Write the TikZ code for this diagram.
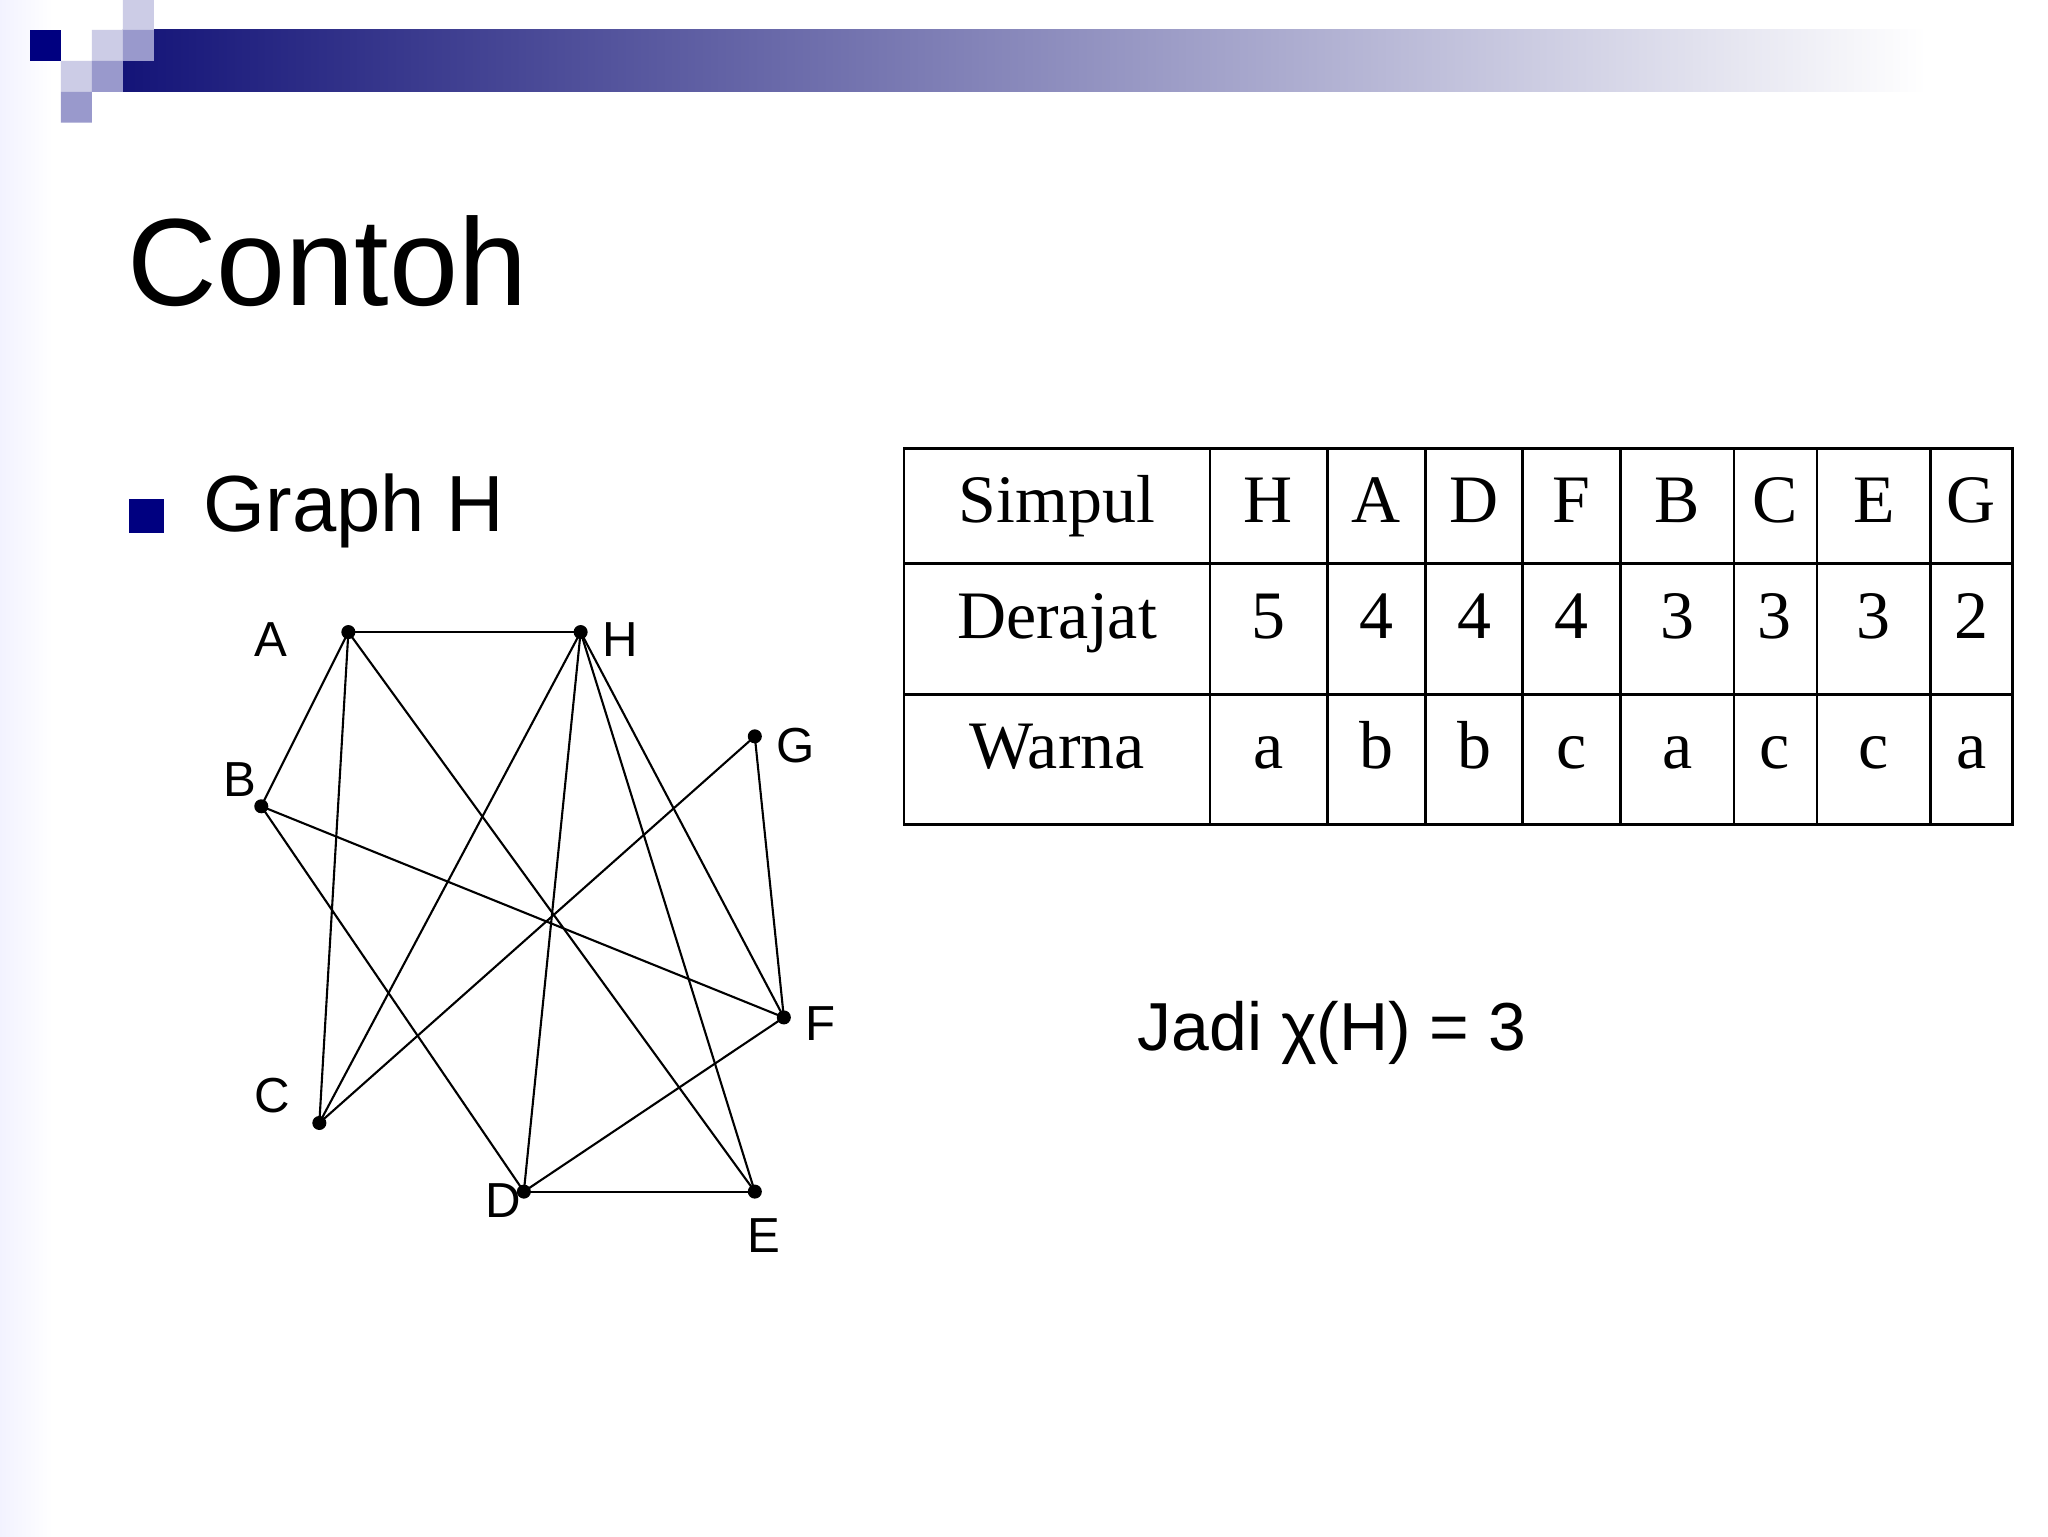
\documentclass[tikz,border=0pt]{standalone}
\usepackage{fontspec}
\setmainfont{Liberation Sans}
\newfontfamily\tabfont{Liberation Serif}
\definecolor{navy}{RGB}{0,0,128}
\definecolor{barnavy}{RGB}{20,20,120}
\definecolor{lav}{RGB}{204,204,230}
\definecolor{medlav}{RGB}{153,153,204}
\begin{document}
\begin{tikzpicture}[x=0.0198cm,y=-0.0198cm,
  vtx/.style={circle,fill=black,inner sep=0pt,minimum size=6pt},
  lbl/.style={font=\fontsize{21}{21}\selectfont},
  edge/.style={line width=0.9pt},
  cell/.style={font=\tabfont\fontsize{29}{29}\selectfont,anchor=base,inner sep=0pt}]
\useasboundingbox (0,0) rectangle (1552,1164);
\fill[white] (0,0) rectangle (1552,1164);
\shade[left color=blue!5!white,right color=white] (0,0) rectangle (40,1164);
\shade[left color=barnavy,right color=white] (93.2,22.7) rectangle (1460,69.7);
\fill[navy] (22.7,22.7) rectangle (46.2,46.2);
\fill[lav] (93.2,0) rectangle (116.7,22.7) (69.7,22.7) rectangle (93.2,46.2) (46.2,46.2) rectangle (69.7,69.7);
\fill[medlav] (93.2,22.7) rectangle (116.7,46.2) (69.7,46.2) rectangle (93.2,69.7) (46.2,69.7) rectangle (69.7,93);
\node[anchor=west,font=\fontsize{53}{53}\selectfont] (title) at (90,198) {Contoh};
\fill[navy] (98,378) rectangle (124,404);
\node[anchor=west,font=\fontsize{34}{34}\selectfont] (gh) at (148,387) {Graph H};
% vertices
\node[vtx] (A) at (264,479) {};
\node[vtx] (H) at (440,479) {};
\node[vtx] (G) at (572,558) {};
\node[vtx] (B) at (198,611) {};
\node[vtx] (F) at (594,771) {};
\node[vtx] (C) at (242,851) {};
\node[vtx] (D) at (397,903) {};
\node[vtx] (E) at (572,903) {};
\node[lbl] at (205,485) {A};
\node[lbl] at (470,485) {H};
\node[lbl] at (603,565) {G};
\node[lbl] at (182,591) {B};
\node[lbl] at (622,776) {F};
\node[lbl] at (206,830) {C};
\node[lbl] at (381,910) {D};
\node[lbl] at (579,936) {E};
\foreach \a/\b in {A/H,A/B,A/C,A/E,H/C,H/D,H/E,H/F,G/C,G/F,B/F,B/D,D/E,D/F}
  \draw[edge] (\a.center) -- (\b.center);
% table
\draw[line width=1.2pt] (685,340) rectangle (1525,625);
\foreach \y in {427,526} \draw[line width=1.2pt] (685,\y) -- (1525,\y);
\foreach \x in {917,1006,1080,1154,1228,1314,1377,1463} \draw[line width=1.2pt] (\x,340) -- (\x,625);
\def\xs{{801,961,1043,1117,1191,1271,1345,1420,1494}}
\foreach \t [count=\i from 0] in {Simpul,H,A,D,F,B,C,E,G}
  \node[cell] at ({\xs[\i]},396) {\t};
\foreach \t [count=\i from 0] in {Derajat,5,4,4,4,3,3,3,2}
  \node[cell] at ({\xs[\i]},484) {\t};
\foreach \t [count=\i from 0] in {Warna,a,b,b,c,a,c,c,a}
  \node[cell] at ({\xs[\i]},582) {\t};
\node[anchor=west,font=\fontsize{29}{29}\selectfont] (jadi) at (856,783) {Jadi χ(H) = 3};
\end{tikzpicture}
\end{document}
